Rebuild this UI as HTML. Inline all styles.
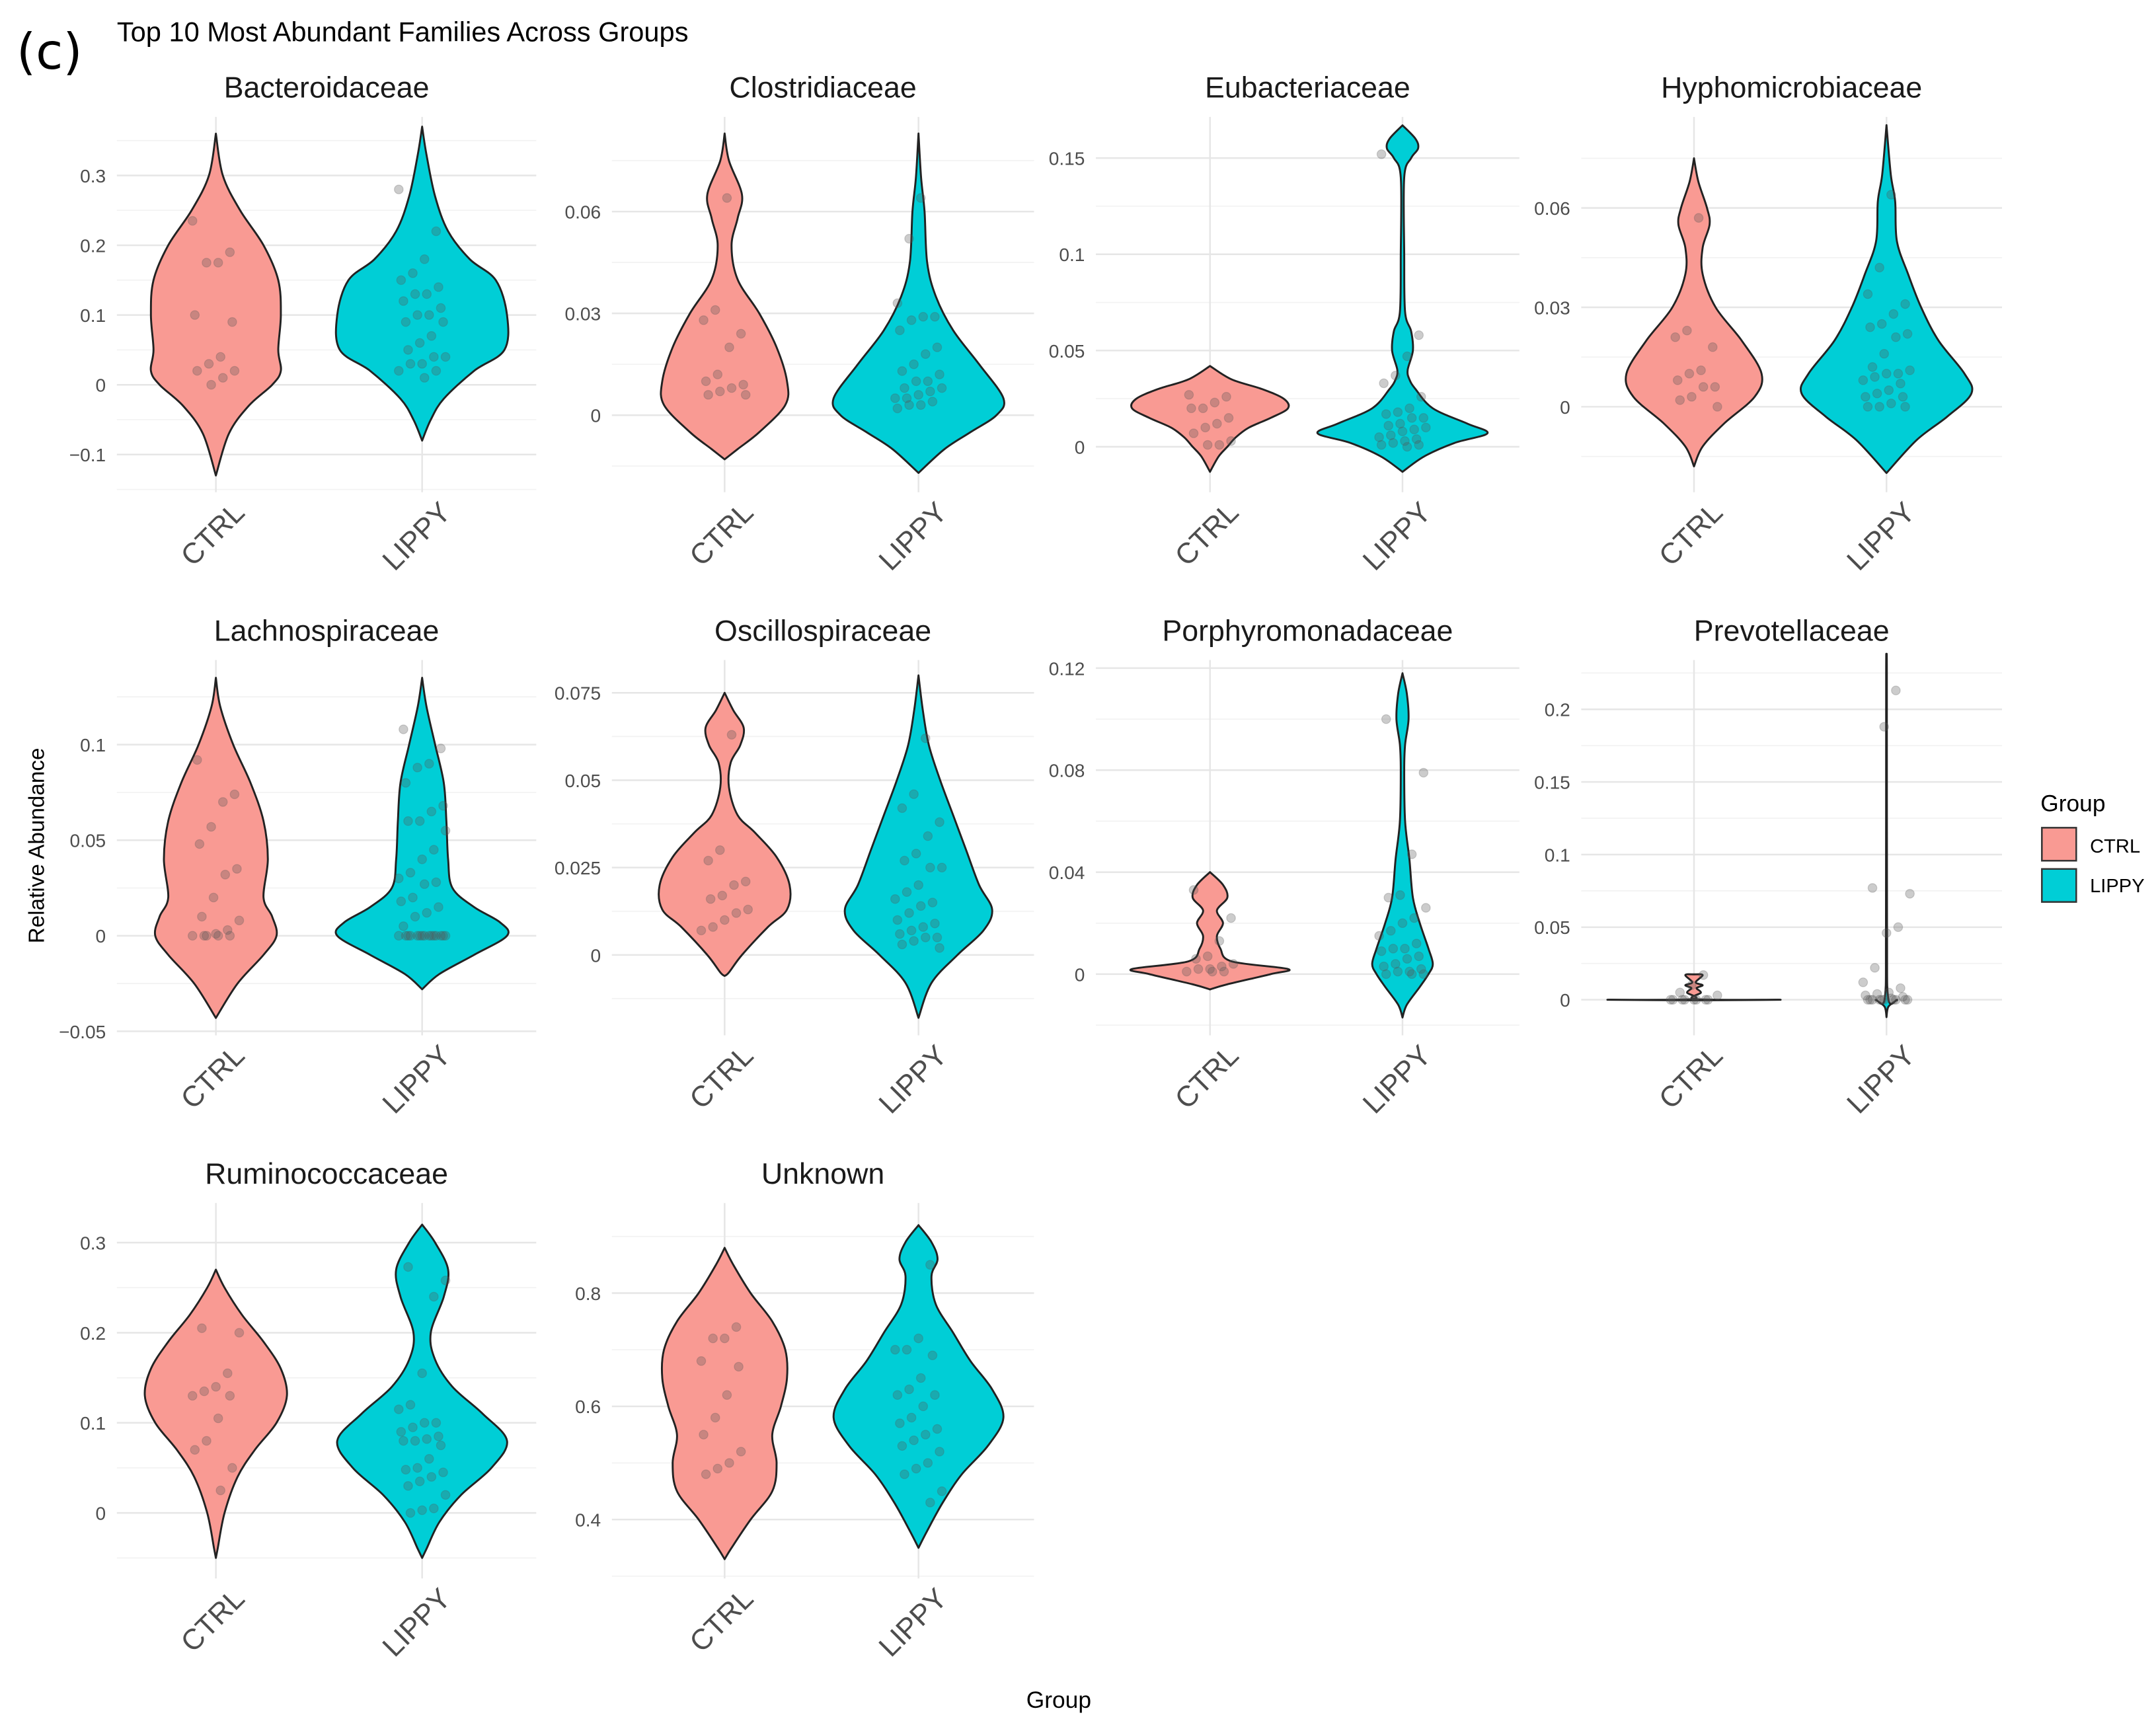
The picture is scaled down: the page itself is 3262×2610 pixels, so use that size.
<!DOCTYPE html>
<html><head><meta charset="utf-8">
<style>
html,body{margin:0;padding:0;background:#fff;}
svg{display:block;}
text{font-family:"Liberation Sans",sans-serif;}
</style></head>
<body>
<svg id="chart" width="3262" height="2610" viewBox="0 0 1568 1254.6" xmlns="http://www.w3.org/2000/svg">
<rect x="0" y="0" width="1568" height="1255" fill="#fff"/>
<text x="12" y="50" font-size="36" fill="#000" style="font-family:'DejaVu Sans',sans-serif">(c)</text>
<text x="85" y="30" font-size="20" fill="#000">Top 10 Most Abundant Families Across Groups</text>
<text transform="translate(32,615) rotate(-90)" text-anchor="middle" font-size="16" fill="#000">Relative Abundance</text>
<text x="770" y="1242" text-anchor="middle" font-size="17" fill="#000">Group</text>
<g>
<text x="1484" y="590" font-size="17" fill="#000">Group</text>
<rect x="1485" y="602" width="25" height="24" fill="#F99A93" stroke="#333" stroke-width="1.2"/>
<text x="1520" y="620" font-size="14" fill="#000">CTRL</text>
<rect x="1485" y="632" width="25" height="24" fill="#00CED6" stroke="#333" stroke-width="1.2"/>
<text x="1520" y="649" font-size="14" fill="#000">LIPPY</text>
</g>
<g id="panels"></g>
</svg>
<script>
const titles=["Bacteroidaceae","Clostridiaceae","Eubacteriaceae","Hyphomicrobiaceae","Lachnospiraceae","Oscillospiraceae","Porphyromonadaceae","Prevotellaceae","Ruminococcaceae","Unknown"];
const categories=["CTRL","LIPPY"];
const yLo=[-0.154,-0.0227,-0.0236,-0.0258,-0.0521,-0.0230,-0.024,-0.0245,-0.0727,0.296];
const yHi=[0.384,0.0879,0.1714,0.0875,0.1443,0.0844,0.1232,0.2340,0.3439,0.959];
const ticks=[[-0.1,0,0.1,0.2,0.3],[0,0.03,0.06],[0,0.05,0.1,0.15],[0,0.03,0.06],[-0.05,0,0.05,0.1],[0,0.025,0.05,0.075],[0,0.04,0.08,0.12],[0,0.05,0.1,0.15,0.2],[0,0.1,0.2,0.3],[0.4,0.6,0.8]];
const tickLabels=[["\u22120.1","0","0.1","0.2","0.3"],["0","0.03","0.06"],["0","0.05","0.1","0.15"],["0","0.03","0.06"],["\u22120.05","0","0.05","0.1"],["0","0.025","0.05","0.075"],["0","0.04","0.08","0.12"],["0","0.05","0.1","0.15","0.2"],["0","0.1","0.2","0.3"],["0.4","0.6","0.8"]];
const ctrlProfiles=[
[[-0.13,0],[-0.07,0.15],[-0.03,0.38],[0,0.65],[0.02,0.75],[0.05,0.72],[0.1,0.75],[0.15,0.72],[0.2,0.55],[0.25,0.28],[0.3,0.08],[0.36,0]],
[[-0.013,0],[-0.01,0.15],[-0.005,0.4],[0.003,0.7],[0.01,0.72],[0.02,0.6],[0.03,0.4],[0.04,0.15],[0.05,0.08],[0.058,0.15],[0.065,0.2],[0.075,0.05],[0.083,0]],
[[-0.013,0],[-0.005,0.1],[0,0.2],[0.005,0.3],[0.01,0.45],[0.015,0.7],[0.02,0.9],[0.025,0.85],[0.03,0.6],[0.035,0.25],[0.042,0]],
[[-0.018,0],[-0.012,0.1],[-0.005,0.35],[0.003,0.7],[0.01,0.78],[0.02,0.55],[0.03,0.25],[0.04,0.1],[0.048,0.1],[0.055,0.18],[0.06,0.15],[0.068,0.05],[0.075,0]],
[[-0.043,0],[-0.025,0.25],[-0.01,0.55],[0,0.7],[0.01,0.65],[0.02,0.55],[0.04,0.6],[0.06,0.55],[0.08,0.4],[0.1,0.2],[0.12,0.05],[0.135,0]],
[[-0.006,0],[-0.005,0.05],[0,0.2],[0.008,0.5],[0.013,0.72],[0.02,0.75],[0.028,0.6],[0.035,0.35],[0.04,0.15],[0.048,0.05],[0.055,0.07],[0.06,0.18],[0.065,0.22],[0.07,0.1],[0.075,0]],
[[-0.006,0],[-0.004,0.2],[0,0.7],[0.002,0.9],[0.005,0.25],[0.01,0.12],[0.015,0.08],[0.02,0.15],[0.025,0.08],[0.03,0.2],[0.035,0.15],[0.04,0]],
[[-0.0004,0],[0,1],[0.0004,0.03],[0.005,0.08],[0.008,0.03],[0.01,0.1],[0.012,0.02],[0.017,0.1],[0.0175,0]],
[[-0.05,0],[-0.04,0.02],[0,0.1],[0.04,0.25],[0.07,0.45],[0.1,0.7],[0.13,0.82],[0.16,0.75],[0.19,0.55],[0.22,0.3],[0.25,0.1],[0.27,0]],
[[0.33,0],[0.35,0.08],[0.4,0.3],[0.45,0.55],[0.5,0.6],[0.55,0.55],[0.6,0.65],[0.65,0.72],[0.7,0.7],[0.75,0.55],[0.8,0.3],[0.85,0.1],[0.88,0]]];
const lippyProfiles=[
[[-0.08,0],[-0.05,0.1],[-0.02,0.25],[0.02,0.6],[0.05,0.95],[0.1,0.98],[0.15,0.85],[0.18,0.55],[0.22,0.3],[0.27,0.15],[0.33,0.05],[0.37,0]],
[[-0.017,0],[-0.01,0.3],[-0.005,0.6],[0,0.9],[0.005,0.98],[0.015,0.7],[0.025,0.4],[0.035,0.2],[0.045,0.1],[0.06,0.07],[0.07,0.03],[0.083,0]],
[[-0.013,0],[-0.005,0.25],[0.002,0.6],[0.007,0.98],[0.012,0.75],[0.02,0.35],[0.03,0.15],[0.035,0.08],[0.04,0.06],[0.05,0.12],[0.06,0.1],[0.07,0.03],[0.1,0.02],[0.14,0.02],[0.15,0.1],[0.155,0.18],[0.16,0.15],[0.167,0]],
[[-0.02,0],[-0.01,0.35],[-0.003,0.7],[0.004,0.98],[0.01,0.9],[0.02,0.6],[0.03,0.4],[0.04,0.25],[0.05,0.12],[0.062,0.1],[0.07,0.05],[0.085,0]],
[[-0.028,0],[-0.02,0.2],[-0.01,0.6],[0,0.98],[0.007,0.9],[0.015,0.6],[0.025,0.35],[0.04,0.3],[0.06,0.28],[0.08,0.25],[0.1,0.15],[0.12,0.05],[0.135,0]],
[[-0.018,0],[-0.008,0.15],[0,0.45],[0.007,0.75],[0.013,0.85],[0.02,0.7],[0.03,0.55],[0.04,0.4],[0.05,0.25],[0.06,0.12],[0.07,0.05],[0.08,0]],
[[-0.017,0],[-0.012,0.05],[-0.005,0.2],[0,0.3],[0.004,0.35],[0.01,0.3],[0.02,0.2],[0.03,0.12],[0.045,0.08],[0.06,0.03],[0.08,0.02],[0.09,0.03],[0.1,0.07],[0.11,0.05],[0.118,0]],
[[-0.012,0],[-0.005,0.02],[-0.001,0.1],[0,0.12],[0.001,0.02],[0.05,0.006],[0.225,0.004],[0.226,0]],
[[-0.05,0],[-0.04,0.05],[-0.01,0.2],[0.02,0.45],[0.05,0.8],[0.08,0.98],[0.11,0.7],[0.14,0.35],[0.17,0.15],[0.2,0.1],[0.24,0.25],[0.27,0.3],[0.3,0.15],[0.32,0]],
[[0.35,0],[0.38,0.1],[0.43,0.28],[0.48,0.5],[0.53,0.8],[0.58,0.98],[0.63,0.85],[0.68,0.6],[0.73,0.4],[0.78,0.2],[0.83,0.15],[0.86,0.22],[0.89,0.15],[0.92,0]]];
const ctrlPoints=[
[0.235,0.19,0.175,0.175,0.1,0.09,0.04,0.03,0.02,0.02,0.01,0.0],
[0.064,0.031,0.028,0.024,0.02,0.012,0.01,0.009,0.008,0.007,0.006,0.006],
[0.027,0.026,0.023,0.02,0.02,0.015,0.012,0.01,0.007,0.003,0.001,0.001],
[0.057,0.023,0.021,0.018,0.011,0.01,0.008,0.006,0.006,0.003,0.002,0],
[0.092,0.074,0.07,0.057,0.048,0.035,0.032,0.02,0.01,0.008,0.003,0.001,0,0,0,0,0],
[0.063,0.03,0.027,0.021,0.02,0.017,0.016,0.013,0.012,0.01,0.008,0.007],
[0.033,0.022,0.013,0.007,0.006,0.004,0.003,0.002,0.002,0.001,0.001,0.001],
[0.017,0.01,0.005,0.003,0,0,0,0,0,0,0,0],
[0.205,0.2,0.155,0.14,0.135,0.13,0.13,0.105,0.08,0.07,0.05,0.025],
[0.74,0.72,0.72,0.68,0.67,0.62,0.58,0.55,0.52,0.5,0.49,0.48]];
const lippyPoints=[
[0.28,0.22,0.18,0.16,0.15,0.14,0.13,0.13,0.12,0.11,0.1,0.1,0.09,0.09,0.07,0.06,0.05,0.04,0.04,0.03,0.03,0.02,0.02,0.01],
[0.064,0.052,0.033,0.029,0.029,0.028,0.025,0.02,0.018,0.015,0.013,0.012,0.01,0.01,0.008,0.008,0.007,0.006,0.005,0.005,0.004,0.003,0.003,0.002],
[0.152,0.058,0.047,0.037,0.033,0.026,0.02,0.018,0.017,0.015,0.015,0.012,0.011,0.01,0.009,0.008,0.006,0.005,0.004,0.003,0.002,0.001,0.001,0],
[0.064,0.042,0.034,0.031,0.028,0.025,0.024,0.022,0.021,0.016,0.012,0.011,0.01,0.01,0.009,0.008,0.007,0.005,0.004,0.003,0.003,0.001,0,0,0],
[0.108,0.098,0.09,0.088,0.08,0.068,0.065,0.06,0.06,0.055,0.045,0.04,0.033,0.03,0.028,0.027,0.02,0.018,0.015,0.012,0.01,0.005,0,0,0,0,0,0,0,0,0,0,0,0,0,0,0],
[0.062,0.046,0.042,0.038,0.034,0.029,0.027,0.025,0.025,0.02,0.018,0.016,0.015,0.014,0.012,0.01,0.009,0.008,0.007,0.006,0.005,0.005,0.004,0.003,0.002],
[0.1,0.079,0.047,0.031,0.03,0.026,0.022,0.02,0.017,0.015,0.012,0.01,0.01,0.009,0.007,0.006,0.004,0.003,0.002,0.001,0.001,0,0,0],
[0.213,0.188,0.077,0.073,0.05,0.046,0.022,0.012,0.008,0.005,0.004,0.003,0.002,0.001,0,0,0,0,0,0,0,0,0,0],
[0.273,0.258,0.24,0.155,0.12,0.115,0.1,0.1,0.095,0.09,0.085,0.082,0.08,0.08,0.075,0.06,0.05,0.048,0.045,0.04,0.035,0.03,0.02,0.005,0.003,0],
[0.85,0.72,0.7,0.7,0.69,0.65,0.63,0.62,0.62,0.6,0.58,0.57,0.56,0.55,0.54,0.53,0.52,0.5,0.49,0.48,0.45,0.43]];

const NS="http://www.w3.org/2000/svg";
const root=document.getElementById("panels");
const colL=[85,445,797,1150], colW=[305,307,308,306];
const rowT=[85,480,875], rowH=273;
const colCenters=[[157,307],[527,668],[880,1020],[1232,1372]];
const maxHW=63;
function mk(tag,attrs,parent){const e=document.createElementNS(NS,tag);for(const k in attrs)e.setAttribute(k,attrs[k]);parent.appendChild(e);return e;}
function smoothPath(pts){
  let d="M"+pts[0][0].toFixed(2)+","+pts[0][1].toFixed(2);
  for(let i=0;i<pts.length-1;i++){
    const p0=pts[Math.max(0,i-1)],p1=pts[i],p2=pts[i+1],p3=pts[Math.min(pts.length-1,i+2)];
    const c1=[p1[0]+(p2[0]-p0[0])/6,p1[1]+(p2[1]-p0[1])/6];
    const c2=[p2[0]-(p3[0]-p1[0])/6,p2[1]-(p3[1]-p1[1])/6];
    d+=" C"+c1[0].toFixed(2)+","+c1[1].toFixed(2)+" "+c2[0].toFixed(2)+","+c2[1].toFixed(2)+" "+p2[0].toFixed(2)+","+p2[1].toFixed(2);
  }
  return d;
}
titles.forEach((t,i)=>{
  const r=Math.floor(i/4), c=i%4;
  const x0=colL[c], w=colW[c], y0=rowT[r], h=rowH;
  const lo=yLo[i], hi=yHi[i];
  const ys=v=>y0+h-(v-lo)/(hi-lo)*h;
  const g=mk("g",{},root);
  
  
  const tk=ticks[i];
  const step=tk[1]-tk[0];
  for(let k=-1;k<tk.length;k++){
    const v=tk[0]+step*(k+0.5);
    if(v<lo||v>hi)continue;
    const gl=mk("line",{x1:x0,x2:x0+w,y1:ys(v),y2:ys(v),stroke:"#f2f2f2","stroke-width":0.8},g);
    
    
  }
  tk.forEach((v,k)=>{
    const gl=mk("line",{x1:x0,x2:x0+w,y1:ys(v),y2:ys(v),stroke:"#e6e6e6","stroke-width":1.2},g);
    
    
    const tl=mk("text",{x:x0-8,y:ys(v)+5,"text-anchor":"end","font-size":13.5,fill:"#4d4d4d"},g);
    tl.textContent=tickLabels[i][k];
    
    
  });
  categories.forEach((cat,j)=>{
    const cx=colCenters[c][j];
    const vl=mk("line",{x1:cx,x2:cx,y1:y0,y2:y0+h,stroke:"#e6e6e6","stroke-width":1.2},g);
    
    
    const lb=mk("text",{transform:"translate("+(cx+22)+","+(y0+h+16)+") rotate(-45)","text-anchor":"end","font-size":21,fill:"#4d4d4d"},g);
    lb.textContent=cat;
    
    
  });
  const title=mk("text",{x:x0+w/2,y:y0-14,"text-anchor":"middle","font-size":21.5,fill:"#1a1a1a"},g);
  title.textContent=t;
  
  
  [ctrlProfiles[i],lippyProfiles[i]].forEach((prof,j)=>{
    const cx=colCenters[c][j];
    const right=prof.map(p=>[cx+p[1]*maxHW,ys(p[0])]);
    const left=prof.slice().reverse().map(p=>[cx-p[1]*maxHW,ys(p[0])]);
    const d=smoothPath(right)+" "+smoothPath(left).replace(/^M/,"L")+" Z";
    const vp=mk("path",{d:d,fill:j===0?"#F99A93":"#00CED6",stroke:"#222","stroke-width":1.4,"stroke-linejoin":"round"},g);
    
    
  });
  [ctrlPoints[i],lippyPoints[i]].forEach((pts,j)=>{
    const cx=colCenters[c][j];
    pts.forEach((v,k)=>{
      const off=(((k*37+i*11)%21)-10)/10*17;
      const pt=mk("circle",{cx:cx+off,cy:ys(v),r:3.2,fill:"#555","fill-opacity":0.3,stroke:"#555","stroke-opacity":0.25,"stroke-width":0.6},g);
      
      
    });
  });
});
</script>
</body></html>
